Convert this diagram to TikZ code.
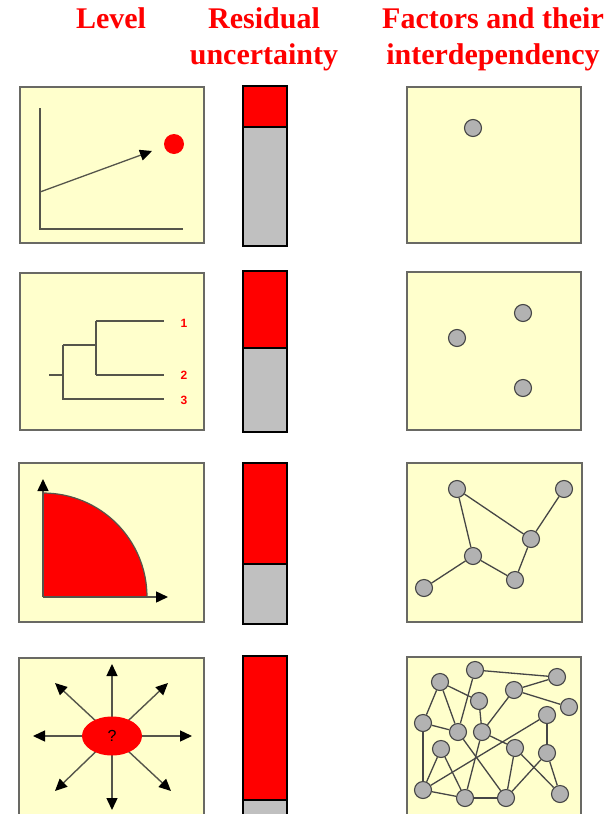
\documentclass[tikz,border=0pt]{standalone}
\usepackage{fontspec}
\setmainfont{Liberation Serif}
\setsansfont{Liberation Sans}
\usetikzlibrary{arrows.meta,shapes.geometric}
\definecolor{hdr}{RGB}{255,0,0}
\definecolor{paper}{RGB}{255,255,204}
\definecolor{frame}{RGB}{105,105,100}
\definecolor{ink}{RGB}{85,85,75}
\definecolor{barred}{RGB}{255,0,0}
\definecolor{bargray}{RGB}{192,192,192}
\definecolor{dotgray}{RGB}{178,178,178}
\definecolor{dotline}{RGB}{70,70,70}
\begin{document}
\begin{tikzpicture}[x=1pt,y=-1pt,
 panel/.style={draw=frame,line width=1.2pt,fill=paper},
 barbox/.style={draw=black,line width=2pt},
 dot/.style={circle,draw=dotline,line width=1.1pt,fill=dotgray,minimum size=17pt,inner sep=0pt},
 link/.style={draw=dotline,line width=1.3pt},
 axis/.style={draw=ink,line width=1.5pt},
 tip/.style={-{Triangle[length=12pt,width=11pt,color=black]}},
 head/.style={text=hdr,font=\fontsize{30}{36}\selectfont\bfseries,anchor=base,inner sep=0pt},
 lab/.style={text=hdr,font=\sffamily\bfseries\fontsize{12}{12}\selectfont,inner sep=0pt}]
\useasboundingbox (0,0) rectangle (612,814);
\clip (0,0) rectangle (612,814);

% headers
\node[head] (hlevel) at (111,28) {Level};
\node[head] (hres1) at (264,28) {Residual};
\node[head] (hres2) at (264,64) {uncertainty};
\node[head] (hfac1) at (493,28) {Factors and their};
\node[head] (hfac2) at (493,64) {interdependency};

% panels
\draw[panel] (20,87) rectangle (204,243);
\draw[panel] (407,87) rectangle (581,243);
\draw[panel] (20,273) rectangle (204,430);
\draw[panel] (407,272) rectangle (581,430);
\draw[panel] (19,463) rectangle (204,622);
\draw[panel] (407,463) rectangle (582,622);
\draw[panel] (19,658) rectangle (204,840);
\draw[panel] (407,657) rectangle (581,840);

% bars
\fill[barred] (243,86) rectangle (287,127);
\fill[bargray] (243,127) rectangle (287,246);
\draw[barbox] (243,86) rectangle (287,246);
\draw[barbox] (243,127) -- (287,127);

\fill[barred] (243,271) rectangle (287,348);
\fill[bargray] (243,348) rectangle (287,432);
\draw[barbox] (243,271) rectangle (287,432);
\draw[barbox] (243,348) -- (287,348);

\fill[barred] (243,463) rectangle (287,564);
\fill[bargray] (243,564) rectangle (287,624);
\draw[barbox] (243,463) rectangle (287,624);
\draw[barbox] (243,564) -- (287,564);

\fill[barred] (243,656) rectangle (287,800);
\fill[bargray] (243,800) rectangle (287,840);
\draw[barbox] (243,656) rectangle (287,840);
\draw[barbox] (243,800) -- (287,800);

% row 1 left: trend
\draw[axis] (40,108) -- (40,229) -- (183,229);
\coordinate (g0) at (40,192);
\coordinate (g1) at (152,151);
\draw[axis,line width=1.3pt,tip] (g0) -- (g1);
\node[circle,fill=red,minimum size=20pt,inner sep=0pt] (target) at (174,144) {};

% row 2 left: tree
\coordinate (r0) at (49,375);
\coordinate (ra) at (63,375);
\coordinate (ra1) at (63,345);
\coordinate (ra3) at (63,399);
\coordinate (rb) at (96,345);
\coordinate (rb1) at (96,321);
\coordinate (rb2) at (96,375);
\coordinate (e1) at (164,321);
\coordinate (e2) at (164,375);
\coordinate (e3) at (164,399);
\draw[axis] (r0) -- (ra);
\draw[axis] (ra1) -- (ra3) -- (e3);
\draw[axis] (ra1) -- (rb);
\draw[axis] (rb1) -- (rb2);
\draw[axis] (rb1) -- (e1);
\draw[axis] (rb2) -- (e2);
\node[lab] (l1) at (184,323) {1};
\node[lab] (l2) at (184,375) {2};
\node[lab] (l3) at (184,400) {3};

% row 3 left: quarter disc
\coordinate (o3) at (43,597);
\fill[red] (o3) -- (43,493) arc[start angle=90,end angle=0,radius=104pt] -- cycle;
\draw[draw=ink,line width=1.2pt] (43,493) arc[start angle=90,end angle=0,radius=104pt];
\coordinate (ytip) at (43,479);
\coordinate (xtip) at (168,597);
\draw[axis,tip] (o3) -- (ytip);
\draw[axis,tip] (o3) -- (xtip);

% row 4 left: star
\coordinate (qc) at (112,736);
\coordinate (sn) at (112,664);
\coordinate (ss) at (112,810);
\coordinate (sw) at (33,736);
\coordinate (se) at (192,736);
\coordinate (snw) at (55,683);
\coordinate (sne) at (168,683);
\coordinate (ssw) at (55,791);
\coordinate (sse) at (171,791);
\draw[axis,line width=1.4pt,tip] (qc) -- (sn);
\draw[axis,line width=1.4pt,tip] (qc) -- (ss);
\draw[axis,line width=1.4pt,tip] (qc) -- (sw);
\draw[axis,line width=1.4pt,tip] (qc) -- (se);
\draw[axis,line width=1.4pt,tip] (qc) -- (snw);
\draw[axis,line width=1.4pt,tip] (qc) -- (sne);
\draw[axis,line width=1.4pt,tip] (qc) -- (ssw);
\draw[axis,line width=1.4pt,tip] (qc) -- (sse);
\node[ellipse,fill=red,minimum width=60pt,minimum height=39pt,inner sep=0pt,font=\sffamily\fontsize{16}{16}\selectfont] (q) at (qc) {?};

% row 1 right
\node[dot] (a1) at (473,128) {};

% row 2 right
\node[dot] (b1) at (523,313) {};
\node[dot] (b2) at (457,338) {};
\node[dot] (b3) at (523,388) {};

% row 3 right
\node[dot] (c1) at (457,489) {};
\node[dot] (c2) at (564,489) {};
\node[dot] (c3) at (531,539) {};
\node[dot] (c4) at (473,556) {};
\node[dot] (c5) at (515,580) {};
\node[dot] (c6) at (424,588) {};
\draw[link] (c1) -- (c3);
\draw[link] (c1) -- (c4);
\draw[link] (c2) -- (c3);
\draw[link] (c3) -- (c5);
\draw[link] (c4) -- (c5);
\draw[link] (c4) -- (c6);

% row 4 right
\node[dot] (d1) at (475,670) {};
\node[dot] (d2) at (557,677) {};
\node[dot] (d3) at (440,682) {};
\node[dot] (d4) at (514,690) {};
\node[dot] (d5) at (479,701) {};
\node[dot] (d6) at (569,707) {};
\node[dot] (d7) at (547,715) {};
\node[dot] (d8) at (423,723) {};
\node[dot] (d9) at (458,732) {};
\node[dot] (d10) at (482,732) {};
\node[dot] (d11) at (441,749) {};
\node[dot] (d12) at (515,748) {};
\node[dot] (d13) at (547,753) {};
\node[dot] (d14) at (423,790) {};
\node[dot] (d15) at (465,798) {};
\node[dot] (d16) at (506,798) {};
\node[dot] (d17) at (560,794) {};
\foreach \a/\b in {1/2,1/9,3/8,3/9,3/5,4/2,4/6,4/10,5/10,8/9,8/14,7/13,7/14,9/16,10/12,10/15,11/14,11/15,12/16,12/17,13/16,13/17,14/15,15/16}{
  \draw[link] (d\a) -- (d\b);
}
\end{tikzpicture}
\end{document}
